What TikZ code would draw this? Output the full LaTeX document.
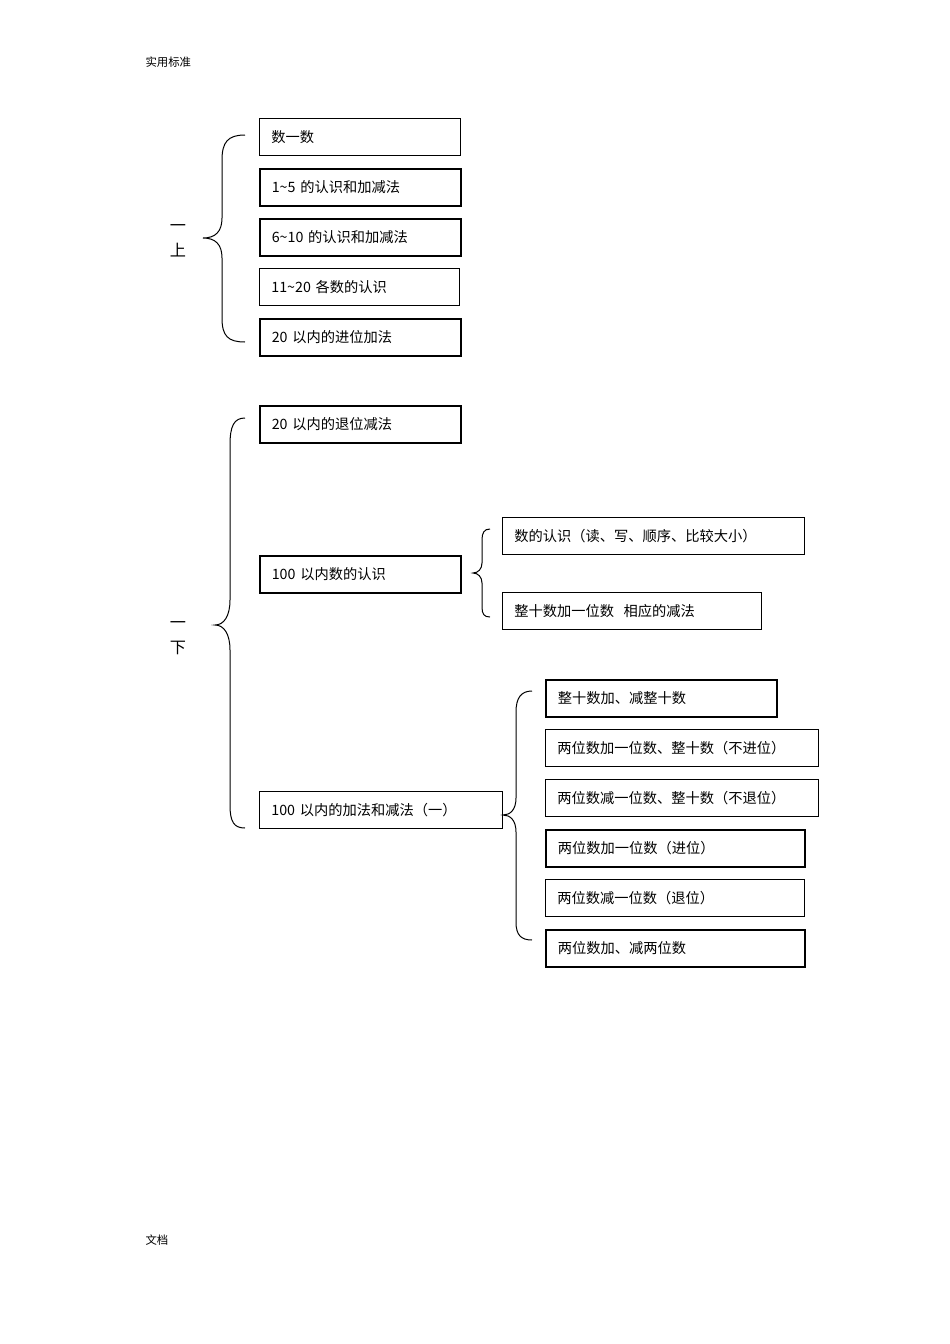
\documentclass[tikz,border=0pt]{standalone}
\usepackage{fontspec}
\setmainfont{Liberation Serif}
\newfontfamily\cjk{Noto Sans CJK SC}[Scale=0.95]
\begin{document}
\begin{tikzpicture}[x=1pt,y=-1pt,
  bx/.style={draw,line width=0.8pt,anchor=north west,minimum height=37pt,inner xsep=12pt,inner ysep=0pt,align=left,font=\fontsize{15}{17}\selectfont\cjk},
  tk/.style={line width=1.6pt},
  br/.style={line width=1pt},
  lab/.style={font=\fontsize{17}{19}\selectfont\cjk}]
\useasboundingbox (0,0) rectangle (950,1344);
\newcommand\bxn[6]{\node[bx,#6,text width=#4-#2-24pt,minimum width=#4-#2] (#1) at (#2,#3) {#5};}
\bxn{a1}{259}{118}{460}{数一数}{}
\bxn{a2}{259}{168}{460}{1\textasciitilde 5 的认识和加减法}{tk}
\bxn{a3}{259}{218}{460}{6\textasciitilde 10 的认识和加减法}{tk}
\bxn{a4}{259}{268}{459}{11\textasciitilde 20 各数的认识}{}
\bxn{a5}{259}{318}{460}{20 以内的进位加法}{tk}
\bxn{b1}{259}{405}{460}{20 以内的退位减法}{tk}
\bxn{b2}{259}{555}{460}{100 以内数的认识}{tk}
\bxn{c1}{502}{517}{804}{数的认识（读、写、顺序、比较大小）}{}
\bxn{c2}{502}{592}{761}{整十数加一位数\ \ 相应的减法}{}
\bxn{b3}{259}{791}{502}{100 以内的加法和减法（一）}{}
\bxn{d1}{545}{679}{776}{整十数加、减整十数}{tk}
\bxn{d2}{545}{729}{818}{两位数加一位数、整十数（不进位）}{}
\bxn{d3}{545}{779}{818}{两位数减一位数、整十数（不退位）}{}
\bxn{d4}{545}{829}{804}{两位数加一位数（进位）}{tk}
\bxn{d5}{545}{879}{804}{两位数减一位数（退位）}{}
\bxn{d6}{545}{929}{804}{两位数加、减两位数}{tk}
% braces
\draw[br] (245,135) .. controls (228,135) and (222,142) .. (222,160) -- (222,218) .. controls (222,232) and (215,238) .. (203,238) .. controls (215,238) and (222,244) .. (222,258) -- (222,318) .. controls (222,336) and (228,342) .. (245,342);
\draw[br] (245,418) .. controls (234,418) and (230,426) .. (230,445) -- (230,600) .. controls (230,616) and (224,625) .. (215,625) .. controls (224,625) and (230,634) .. (230,650) -- (230,805) .. controls (230,822) and (234,828) .. (245,828);
\draw[br] (490,529) .. controls (484,529) and (482,533) .. (482,540) -- (482,563) .. controls (482,569) and (478,573) .. (473,573) .. controls (478,573) and (482,577) .. (482,583) -- (482,607) .. controls (482,614) and (484,617) .. (490,617);
\draw[br] (532,691) .. controls (521,691) and (516,698) .. (516,712) -- (516,798) .. controls (516,810) and (510,815) .. (503,815) .. controls (510,815) and (516,820) .. (516,832) -- (516,922) .. controls (516,935) and (521,940) .. (532,940);
\node[lab] (l1) at (178,228) {一};
\node[lab] (l2) at (178,250) {上};
\node[lab] (l3) at (178,625) {一};
\node[lab] (l4) at (178,648) {下};
\node[font=\fontsize{12}{14}\selectfont\cjk,anchor=west] (h) at (142,62) {实用标准};
\node[font=\fontsize{12}{14}\selectfont\cjk,anchor=west] (f) at (142,1240) {文档};
\end{tikzpicture}
\end{document}
